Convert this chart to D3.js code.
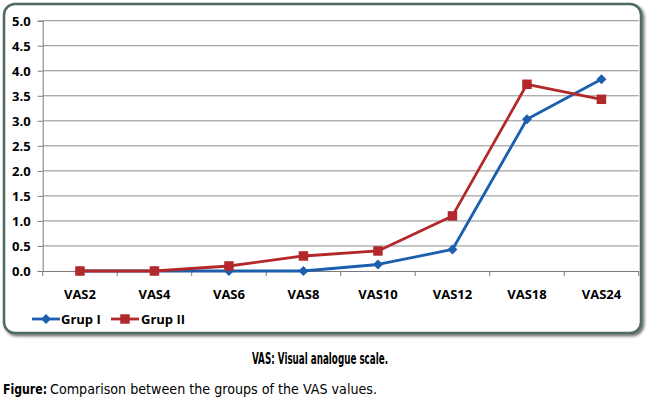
<!DOCTYPE html>
<html><head><meta charset="utf-8">
<script src="https://cdn.jsdelivr.net/npm/d3@7"></script>
<style>body{margin:0;background:#fff}svg{display:block}</style>
</head><body>
<svg id="c" width="650" height="408"></svg>
<script>
const categories = ["VAS2","VAS4","VAS6","VAS8","VAS10","VAS12","VAS18","VAS24"];
const grupI  = [0, 0, 0, 0, 0.13, 0.43, 3.03, 3.83];
const grupII = [0, 0, 0.1, 0.3, 0.4, 1.1, 3.73, 3.43];
const yTicks = [0,0.5,1,1.5,2,2.5,3,3.5,4,4.5,5];
const seriesNames = ["Grup I","Grup II"];

const svg = d3.select("#c");
const font = "'Open Sans', 'DejaVu Sans', sans-serif";
const narrow = "'Liberation Sans Narrow','DejaVu Sans Condensed','Roboto Condensed','Liberation Sans',sans-serif";

const defs = svg.append("defs");
const f = defs.append("filter").attr("id","sh").attr("x","-5%").attr("y","-5%").attr("width","110%").attr("height","115%");
f.append("feGaussianBlur").attr("in","SourceAlpha").attr("stdDeviation",1.5);
f.append("feOffset").attr("dx",2).attr("dy",2).attr("result","b");
f.append("feComponentTransfer").append("feFuncA").attr("type","linear").attr("slope",0.6);
const m = f.append("feMerge"); m.append("feMergeNode"); m.append("feMergeNode").attr("in","SourceGraphic");

svg.append("rect").attr("x",4).attr("y",4).attr("width",637).attr("height",329)
  .attr("rx",11).attr("fill","#fff").attr("stroke","#4f6a5f").attr("stroke-width",2.5)
  .attr("filter","url(#sh)");

const x = d3.scaleBand().domain(categories).range([42.7, 638.7]);
const y = d3.scaleLinear().domain([0,5]).range([271, 20.7]);

svg.append("g").selectAll("line").data(yTicks.slice(1)).join("line")
  .attr("x1",42.7).attr("x2",638.7).attr("y1",d=>y(d)).attr("y2",d=>y(d))
  .attr("stroke","#8c8c8c").attr("stroke-width",1);

const ya = svg.append("g").attr("transform","translate(42.7,0)")
  .call(d3.axisLeft(y).tickValues(yTicks).tickFormat(d3.format(".1f")).tickSize(5).tickPadding(7));
ya.select(".domain").attr("stroke","#7a7a7a");
ya.selectAll(".tick line").attr("stroke","#7a7a7a");
ya.selectAll("text").attr("font-family",font).attr("font-weight","bold").attr("font-size","13px").attr("fill","#000").attr("dy","0.35em");

const xa = svg.append("g").attr("transform","translate(0,271)")
  .call(d3.axisBottom(x).tickSize(0).tickPadding(19));
xa.select(".domain").attr("stroke","#7a7a7a");
xa.selectAll(".tick text").attr("font-family",font).attr("font-weight","bold").attr("font-size","13px").attr("fill","#000");
svg.append("g").selectAll("line").data(d3.range(categories.length+1)).join("line")
  .attr("x1",i=>42.7+i*x.step()).attr("x2",i=>42.7+i*x.step())
  .attr("y1",271).attr("y2",276).attr("stroke","#7a7a7a");

const colors = ["#1b5fae","#b3282a"];
const data = [grupI, grupII];
const line = d3.line().x((d,i)=>x(categories[i])+x.bandwidth()/2).y(d=>y(d));
const diamond = "M0,-5L5,0L0,5L-5,0Z";
const square = d3.symbol(d3.symbolSquare,90)();

data.forEach((s,k)=>{
  svg.append("path").datum(s).attr("d",line).attr("fill","none")
    .attr("stroke",colors[k]).attr("stroke-width",2.8).attr("stroke-linejoin","round");
  svg.append("g").selectAll("path").data(s).join("path")
    .attr("d",k?square:diamond)
    .attr("transform",(d,i)=>`translate(${x(categories[i])+x.bandwidth()/2},${y(d)})`)
    .attr("fill",colors[k]);
});

const leg = [{x:32,tx:61,name:seriesNames[0]},{x:111,tx:141,name:seriesNames[1]}];
leg.forEach((l,k)=>{
  const g = svg.append("g");
  g.append("line").attr("x1",l.x).attr("x2",l.x+28).attr("y1",319).attr("y2",319).attr("stroke",colors[k]).attr("stroke-width",2.8);
  g.append("path").attr("d",k?square:diamond)
    .attr("transform",`translate(${l.x+14},319)`).attr("fill",colors[k]);
  g.append("text").attr("x",l.tx).attr("y",324).text(l.name)
    .attr("font-family",font).attr("font-weight","bold").attr("font-size","13px").attr("fill","#000");
});

svg.append("text").attr("x",252).attr("y",364).text("VAS: Visual analogue scale.")
  .attr("font-family",narrow).attr("font-weight","bold")
  .attr("font-size","15px").attr("textLength",136).attr("lengthAdjust","spacingAndGlyphs");
const cap = svg.append("text").attr("y",394).attr("font-family",narrow).attr("font-size","14px");
cap.append("tspan").attr("x",3).attr("font-weight","bold").text("Figure:").attr("textLength",44).attr("lengthAdjust","spacingAndGlyphs");
cap.append("tspan").attr("x",50).text("Comparison between the groups of the VAS values.").attr("textLength",327).attr("lengthAdjust","spacingAndGlyphs");
</script>
</body></html>
